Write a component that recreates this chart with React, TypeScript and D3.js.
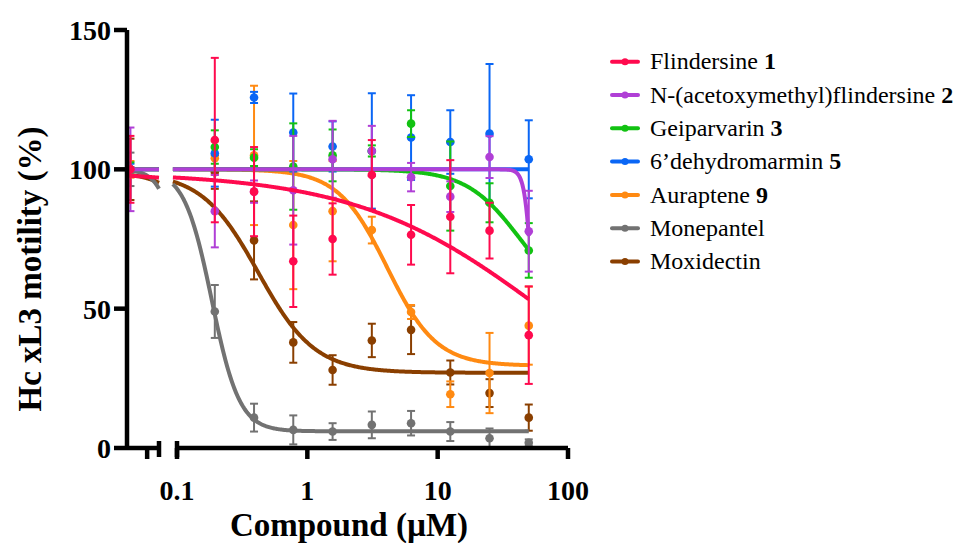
import React from "react";
import * as d3 from "d3";

// concentrations (µM); the untreated control sits on the short left axis segment
const controlConc = 0.05;
const concentrations = [0.195, 0.39, 0.78, 1.5625, 3.125, 6.25, 12.5, 25, 50];

// means and error bars, control first
const flindersineMean = [100, 110.5, 92, 67, 75, 98, 76.5, 83, 78, 40.5];
const flindersineErr = [12, 29.5, 16, 16.4, 12.8, 12.5, 10.7, 20.3, 10, 17.5];
const acetoxyMean = [100, 85, 92, 92.5, 103.6, 106.6, 97.2, 90.2, 104.4, 77.8];
const acetoxyErr = [15, 13, 4, 19.5, 13.8, 9, 5.1, 5.5, 7.5, 14.5];
const geiparvarinMean = [100, 108, 104.2, 101, 105, 106.6, 116.4, 94, 88, 70.9];
const geiparvarinErr = [2.5, 6, 3, 15.5, 9.3, 2, 4.8, 16, 7, 9.8];
const dehydromarminMean = [100, 105.8, 125.8, 113.2, 108.2, 106.6, 111.4, 109.8, 112.8, 103.6];
const dehydromarminErr = [2, 12, 2, 14, 9, 20.7, 15.2, 11.4, 25, 14];
const auraptenMean = [100, 104, 105, 80, 85, 78.2, 48.8, 19.3, 26.9, 43.9];
const auraptenErr = [3, 6, 25, 23, 18, 4.8, 2.5, 4.6, 14.4, 14];
const monepantelMean = [100, 49, 10.9, 6.5, 5.9, 8.3, 8.9, 5.9, 3.5, 1.9];
const monepantelErr = [6, 9.5, 5, 5.2, 3, 4.8, 4.4, 3.4, 3.5, 1.2];
const moxidectinMean = [100, 99, 74.5, 37.9, 28, 38.6, 42.4, 27.1, 19.7, 10.9];
const moxidectinErr = [11, 6, 14, 7.3, 5.3, 6, 8.7, 4.3, 5, 4.7];

// fitted dose-response curves: top, bottom, EC50, hill slope
const flindersineFit = [99, 0, 65, 0.6];
const acetoxyFit = [100, 0, 54, 15];
const geiparvarinFit = [100, 50, 43, 2.1];
const dehydromarminFit = [100, 100, 1, 1];
const auraptenFit = [100, 29.5, 4.1, 2.3];
const monepantelFit = [100, 6, 0.185, 4.1];
const moxidectinFit = [99, 27, 0.42, 2.0];

const legendNames = [
  "Flindersine ",
  "N-(acetoxymethyl)flindersine ",
  "Geiparvarin ",
  "6’dehydromarmin ",
  "Auraptene ",
  "Monepantel",
  "Moxidectin",
];
const legendNumbers = ["1", "2", "3", "5", "9", "", ""];
const colors = ["#FF0A4E", "#B03FD6", "#12C212", "#0A66F5", "#FF8A12", "#727272", "#8A3F00"];

const xTicksMain = [0.1, 1, 10, 100];
const xTickLabels = ["0.1", "1", "10", "100"];
const xTicksBreak = [0.075];
const yTicks = [0, 50, 100, 150];

const series = [
  { mean: flindersineMean, err: flindersineErr, fit: flindersineFit },
  { mean: acetoxyMean, err: acetoxyErr, fit: acetoxyFit },
  { mean: geiparvarinMean, err: geiparvarinErr, fit: geiparvarinFit },
  { mean: dehydromarminMean, err: dehydromarminErr, fit: dehydromarminFit },
  { mean: auraptenMean, err: auraptenErr, fit: auraptenFit },
  { mean: monepantelMean, err: monepantelErr, fit: monepantelFit },
  { mean: moxidectinMean, err: moxidectinErr, fit: moxidectinFit },
].map((s, i) => ({ ...s, color: colors[i], name: legendNames[i], num: legendNumbers[i] }));

const W = 963;
const H = 543;
const font = "'Liberation Serif', 'Times New Roman', serif";

const App = () => {
  const axisY = 448;
  const axisX = 127;

  const y = d3.scaleLinear().domain([0, 150]).range([448, 30]);
  const xBreak = d3.scaleLog().domain([0.046, 0.1]).range([127, 159]);
  const xMain = d3.scaleLog().domain([0.1, 100]).range([177, 568]);

  const fourPL = (fit: number[], c: number) => {
    const [top, bottom, ec50, hill] = fit;
    return bottom + (top - bottom) / (1 + Math.pow(c / ec50, hill));
  };

  const sample = (lo: number, hi: number, n: number) =>
    d3.range(n + 1).map((i) => Math.exp(Math.log(lo) + ((Math.log(hi) - Math.log(lo)) * i) / n));

  const breakConcs = sample(0.046, 0.1, 60);
  const mainConcs = sample(0.093, 50, 400);

  const line = (xs: any, fit: number[]) =>
    d3
      .line<number>()
      .x((c) => xs(c))
      .y((c) => y(fourPL(fit, c)));

  const capW = 4;
  const drawOrder = [...series].reverse();

  return (
    <svg
      width={W}
      height={H}
      style={{ position: "absolute", left: 0, top: 0, background: "#fff" }}
      fontFamily={font}
    >
      {/* series, last legend entry drawn first */}
      {drawOrder.map((s, si) => {
        const pts = [
          { x: xBreak(controlConc), m: s.mean[0], e: s.err[0] },
          ...concentrations.map((c, i) => ({ x: xMain(c), m: s.mean[i + 1], e: s.err[i + 1] })),
        ];
        return (
          <g key={si}>
            <path d={line(xBreak, s.fit)(breakConcs) || ""} fill="none" stroke={s.color} strokeWidth={4} />
            <path d={line(xMain, s.fit)(mainConcs) || ""} fill="none" stroke={s.color} strokeWidth={4} />
            {pts.map((p, i) => (
              <g key={i} stroke={s.color} strokeWidth={2}>
                <line x1={p.x} x2={p.x} y1={y(p.m - p.e)} y2={y(p.m + p.e)} />
                <line x1={p.x - capW} x2={p.x + capW} y1={y(p.m + p.e)} y2={y(p.m + p.e)} />
                <line x1={p.x - capW} x2={p.x + capW} y1={y(p.m - p.e)} y2={y(p.m - p.e)} />
                <circle cx={p.x} cy={y(p.m)} r={4.3} fill={s.color} stroke="none" />
              </g>
            ))}
          </g>
        );
      })}

      {/* y axis */}
      <g stroke="#000" strokeWidth={4.5}>
        <line x1={axisX} x2={axisX} y1={y(0) + 2} y2={y(150)} />
        {yTicks.map((t) => (
          <line key={t} x1={axisX - 13} x2={axisX} y1={y(t)} y2={y(t)} />
        ))}
      </g>
      {yTicks.map((t) => (
        <text
          key={t}
          x={axisX - 16}
          y={y(t) + 10}
          textAnchor="end"
          fontSize={28}
          fontWeight="bold"
        >
          {t}
        </text>
      ))}

      {/* x axis with break */}
      <g stroke="#000" strokeWidth={4.5}>
        <line x1={axisX} x2={xBreak(0.1)} y1={axisY} y2={axisY} />
        <line x1={xMain(0.1)} x2={xMain(100)} y1={axisY} y2={axisY} />
        <line x1={xBreak(0.1)} x2={xBreak(0.1)} y1={axisY - 7} y2={axisY + 9} />
        <line x1={xMain(0.1)} x2={xMain(0.1)} y1={axisY - 7} y2={axisY + 9} />
        {xTicksBreak.map((t) => (
          <line key={t} x1={xBreak(t)} x2={xBreak(t)} y1={axisY} y2={axisY + 11} />
        ))}
        {xTicksMain.map((t) => (
          <line key={t} x1={xMain(t)} x2={xMain(t)} y1={axisY} y2={axisY + 11} />
        ))}
      </g>
      {xTicksMain.map((t, i) => (
        <text key={t} x={xMain(t)} y={500} textAnchor="middle" fontSize={28} fontWeight="bold">
          {xTickLabels[i]}
        </text>
      ))}

      {/* axis titles */}
      <text x={349} y={536} textAnchor="middle" fontSize={33} fontWeight="bold">
        Compound (µM)
      </text>
      <text
        transform="translate(41,269) rotate(-90)"
        textAnchor="middle"
        fontSize={33}
        fontWeight="bold"
      >
        Hc xL3 motility (%)
      </text>

      {/* legend */}
      {series.map((s, i) => {
        const cy = 61.7 + i * 33.3;
        return (
          <g key={i}>
            <line x1={612} x2={638} y1={cy} y2={cy} stroke={s.color} strokeWidth={4} strokeLinecap="round" />
            <circle cx={625} cy={cy} r={3.5} fill={s.color} />
            <text x={650} y={cy + 7.6} fontSize={24}>
              {s.name}
              {s.num && <tspan fontWeight="bold">{s.num}</tspan>}
            </text>
          </g>
        );
      })}
    </svg>
  );
};

export default App;
